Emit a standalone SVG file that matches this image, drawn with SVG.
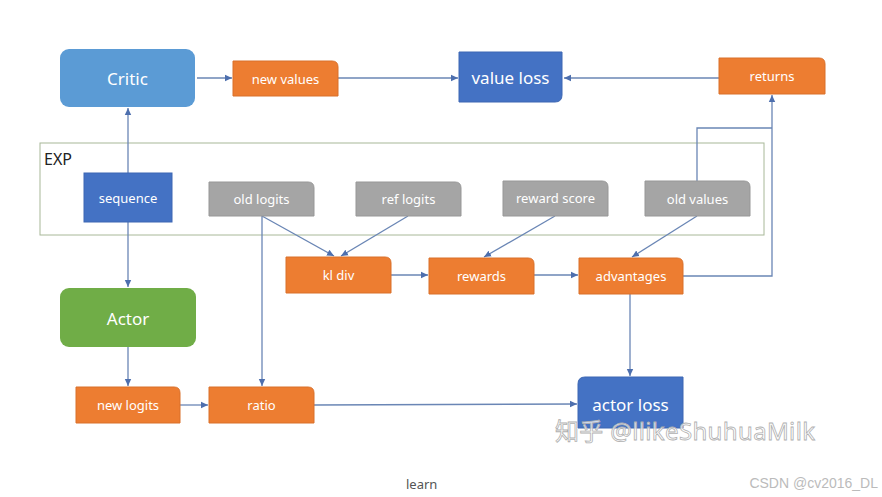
<svg xmlns="http://www.w3.org/2000/svg" width="882" height="497" viewBox="0 0 882 497">
<style>
.lbl{font-family:"Noto Sans","Open Sans","Liberation Sans",sans-serif;fill:#fff;text-anchor:middle;dominant-baseline:central}
.s{font-size:13px}
.b{font-size:17px}
.or{fill:#ed7d31;stroke:#d9702a;stroke-width:1}
.gr{fill:#a5a5a5;stroke:#979797;stroke-width:1}
.bl{fill:#4472c4;stroke:#3d67b3;stroke-width:1}
.c{stroke:#6a86b5;stroke-width:1.3;fill:none}
</style>
<defs>
<marker id="ah" markerWidth="8" markerHeight="8" refX="7" refY="4" orient="auto" markerUnits="userSpaceOnUse">
<path d="M0,0.8 L7,4 L0,7.2 Z" fill="#4d6fae"/>
</marker>
</defs>
<rect width="882" height="497" fill="#fff"/>
<g id="exp">
<rect x="40" y="143" width="724" height="92" fill="none" stroke="#a8b898" stroke-width="1"/>
<text x="44" y="159" font-family="Noto Sans,Open Sans,sans-serif" font-size="16" fill="#222" dominant-baseline="central">EXP</text>
</g>
<g id="connectors">
<line class="c" x1="197" y1="78" x2="232" y2="78" marker-end="url(#ah)"/>
<line class="c" x1="338" y1="78" x2="458" y2="78" marker-end="url(#ah)"/>
<line class="c" x1="719" y1="78" x2="564" y2="78" marker-end="url(#ah)"/>
<line class="c" x1="128" y1="173" x2="128" y2="108" marker-end="url(#ah)"/>
<line class="c" x1="128" y1="222" x2="128" y2="287" marker-end="url(#ah)"/>
<line class="c" x1="128" y1="347" x2="128" y2="386" marker-end="url(#ah)"/>
<line class="c" x1="180" y1="405" x2="208" y2="405" marker-end="url(#ah)"/>
<line class="c" x1="262" y1="216" x2="262" y2="386" marker-end="url(#ah)"/>
<line class="c" x1="262" y1="216" x2="334" y2="256" marker-end="url(#ah)"/>
<line class="c" x1="408" y1="216" x2="341" y2="256" marker-end="url(#ah)"/>
<line class="c" x1="391" y1="275" x2="428" y2="275" marker-end="url(#ah)"/>
<line class="c" x1="555" y1="216" x2="484" y2="257" marker-end="url(#ah)"/>
<line class="c" x1="534" y1="275" x2="578" y2="275" marker-end="url(#ah)"/>
<line class="c" x1="697" y1="216" x2="632" y2="257" marker-end="url(#ah)"/>
<polyline class="c" points="683,276 772,276 772,95" marker-end="url(#ah)"/>
<polyline class="c" points="697,181 697,128 772,128"/>
<line class="c" x1="630" y1="294" x2="630" y2="376" marker-end="url(#ah)"/>
<line class="c" x1="314" y1="405" x2="577" y2="404" marker-end="url(#ah)"/>
</g>
<g id="critic">
<rect x="60" y="49" width="135" height="58" rx="9" fill="#5b9bd5"/>
<text class="lbl b" x="127.5" y="78">Critic</text>
</g>
<g id="new-values">
<path class="or" d="M233,61 H332 Q338,61 338,67 V96 H233 Z"/>
<text class="lbl s" x="285.5" y="78.5">new values</text>
</g>
<g id="value-loss">
<path class="bl" d="M459,52 H562 V95 Q562,102 555,102 H459 Z"/>
<text class="lbl b" x="510.5" y="77">value loss</text>
</g>
<g id="returns">
<path class="or" d="M719,58 H819 Q825,58 825,64 V94 H719 Z"/>
<text class="lbl s" x="772" y="76">returns</text>
</g>
<g id="sequence">
<rect class="bl" x="84" y="173" width="88" height="49"/>
<text class="lbl s" x="128" y="198">sequence</text>
</g>
<g id="old-logits">
<path class="gr" d="M209,182 H308 Q314,182 314,188 V216 H209 Z"/>
<text class="lbl s" x="261.5" y="199">old logits</text>
</g>
<g id="ref-logits">
<path class="gr" d="M356,182 H455 Q461,182 461,188 V216 H356 Z"/>
<text class="lbl s" x="408.5" y="199">ref logits</text>
</g>
<g id="reward-score">
<path class="gr" d="M503,181 H602 Q608,181 608,187 V216 H503 Z"/>
<text class="lbl s" x="555.5" y="198">reward score</text>
</g>
<g id="old-values">
<path class="gr" d="M645,181 H744 Q750,181 750,187 V216 H645 Z"/>
<text class="lbl s" x="697.5" y="199">old values</text>
</g>
<g id="kl-div">
<path class="or" d="M286,257 H385 Q391,257 391,263 V293 H286 Z"/>
<text class="lbl s" x="338.5" y="275">kl div</text>
</g>
<g id="rewards">
<path class="or" d="M429,258 H528 Q534,258 534,264 V294 H429 Z"/>
<text class="lbl s" x="481.5" y="276">rewards</text>
</g>
<g id="advantages">
<path class="or" d="M579,258 H677 Q683,258 683,264 V294 H579 Z"/>
<text class="lbl s" x="631" y="276">advantages</text>
</g>
<g id="actor">
<rect x="60" y="288" width="136" height="59" rx="9" fill="#70ad47"/>
<text class="lbl b" x="128" y="318">Actor</text>
</g>
<g id="new-logits">
<path class="or" d="M76,387 H174 Q180,387 180,393 V423 H76 Z"/>
<text class="lbl s" x="128" y="405">new logits</text>
</g>
<g id="ratio">
<path class="or" d="M209,387 H308 Q314,387 314,393 V423 H209 Z"/>
<text class="lbl s" x="261.5" y="405">ratio</text>
</g>
<g id="actor-loss">
<path class="bl" d="M585,377 H683 V428 H578 V384 Q578,377 585,377 Z"/>
<text class="lbl b" x="630.5" y="404">actor loss</text>
</g>
<g id="watermarks">
<text x="555" y="430" font-family="Noto Sans,Noto Sans CJK SC,sans-serif" font-size="24" fill="#ffffff" fill-opacity="0.75" stroke="#b0b0b0" stroke-width="0.8" dominant-baseline="central" textLength="260">知乎 @llikeShuhuaMilk</text>
<text x="406" y="484" font-family="Noto Sans,Open Sans,sans-serif" font-size="13" fill="#555" dominant-baseline="central">learn</text>
<text x="878" y="483" font-family="Liberation Sans,Arial,sans-serif" font-size="14" fill="#bbbbbb" text-anchor="end" dominant-baseline="central">CSDN @cv2016_DL</text>
</g>
</svg>
